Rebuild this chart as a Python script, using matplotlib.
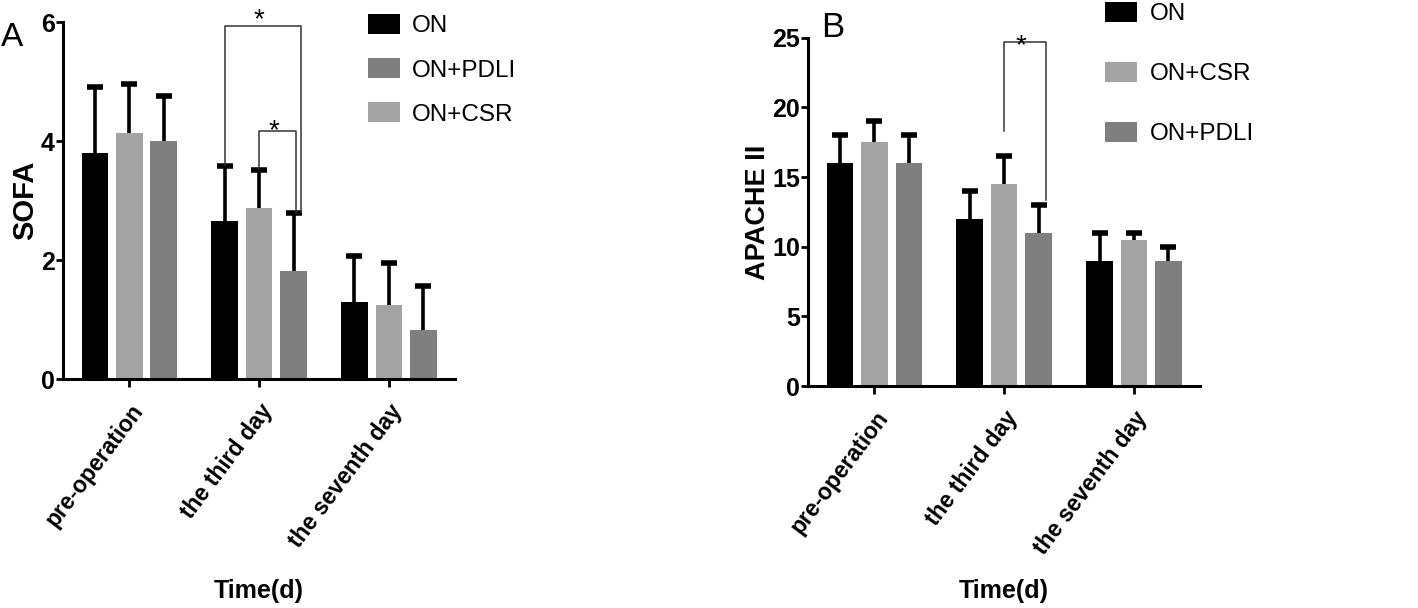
import matplotlib
matplotlib.use("Agg")
import matplotlib.pyplot as plt
import numpy as np

plt.rcParams['font.family'] = ['Liberation Sans', 'DejaVu Sans']

# ---------------- data ----------------
groups = ["pre-operation", "the third day", "the seventh day"]

sofa_on = [3.80, 2.65, 1.30]
sofa_on_sd = [1.10, 0.93, 0.77]
sofa_csr = [4.13, 2.88, 1.25]
sofa_csr_sd = [0.83, 0.63, 0.70]
sofa_pdli = [4.00, 1.82, 0.82]
sofa_pdli_sd = [0.76, 0.97, 0.74]

apache_on = [16.0, 12.0, 9.0]
apache_on_sd = [2.0, 2.0, 2.0]
apache_csr = [17.5, 14.5, 10.5]
apache_csr_sd = [1.5, 2.0, 0.5]
apache_pdli = [16.0, 11.0, 9.0]
apache_pdli_sd = [2.0, 2.0, 1.0]

# significance brackets: (group, bar_i, bar_j, top level, left leg end, right leg end)
sofa_sig = [(1, 0, 2, 5.93, 3.59, 2.81),
            (1, 1, 2, 4.16, 3.55, 2.79)]
apache_sig = [(1, 1, 2, 24.7, 18.3, 13.35)]

C_ON = "#000000"
C_CSR = "#a3a3a3"
C_PDLI = "#7f7f7f"

fig = plt.figure(figsize=(14.18, 6.08), dpi=100)

bw = 0.205
step = 0.265
x = np.arange(len(groups))
right_offsets = [0.06, 0.02]
star_offsets = [-1.0, -4.5]


def panel(ax, series, ylim, yticks, ylabel, sig, ylabel_size, label_y, soffs):
    bars = {}
    for k, (name, vals, sd, col) in enumerate(series):
        xs = x + (k - 1) * step
        vals = np.asarray(vals)
        sd = np.asarray(sd)
        b = ax.bar(xs, vals, width=bw, color=col, zorder=2, label=name)
        ax.errorbar(xs, vals, yerr=[np.zeros(len(vals)), sd], fmt='none',
                    ecolor='black', elinewidth=2.6, capsize=0, zorder=3)
        ax.plot(xs, vals + sd, linestyle='none', marker='_', markersize=12,
                markeredgewidth=4, color='black', zorder=3)
        bars[name] = b
    ax.set_xlim(-0.51, 2.51)
    ax.set_ylim(*ylim)
    ax.set_yticks(yticks)
    ax.set_yticklabels([str(t) for t in yticks], fontsize=18, fontweight='bold')
    ax.set_xticks(x)
    ax.set_xticklabels(groups, rotation=53, ha='right', va='top',
                       rotation_mode='anchor', fontsize=16.5, fontweight='bold')
    for s in ['top', 'right']:
        ax.spines[s].set_visible(False)
    for s in ['left', 'bottom']:
        ax.spines[s].set_linewidth(2.2)
    ax.tick_params(axis='both', width=2, length=5, pad=1)
    ax.tick_params(axis='x', length=6, pad=9)
    ax.set_ylabel(ylabel, fontsize=ylabel_size, fontweight='bold', labelpad=1)
    ax.set_xlabel("Time(d)", fontsize=18, fontweight='bold')
    ax.xaxis.set_label_coords(0.5, label_y)
    for n, (g, i, j, top, lend, rend) in enumerate(sig):
        xl = x[g] + (i - 1) * step
        xr = x[g] + (j - 1) * step + right_offsets[n]
        ax.plot([xl, xl, xr, xr], [lend, top, top, rend], color='#333333', lw=1.1, zorder=4)
        ax.annotate("*", xy=((xl + xr) / 2 - 0.03, top), xytext=(0, soffs[n]),
                    textcoords='offset points', ha='center', va='baseline',
                    fontsize=20, zorder=5)
    return bars


axA = fig.add_axes([0.0446, 0.3766, 0.2763, 0.5872])
bA = panel(axA, [("ON", sofa_on, sofa_on_sd, C_ON),
                 ("ON+CSR", sofa_csr, sofa_csr_sd, C_CSR),
                 ("ON+PDLI", sofa_pdli, sofa_pdli_sd, C_PDLI)],
           (0, 6), [0, 2, 4, 6], "SOFA", sofa_sig, 21, -0.56, star_offsets)
axA.legend([bA["ON"], bA["ON+PDLI"], bA["ON+CSR"]], ["ON", "ON+PDLI", "ON+CSR"],
           loc='upper left', bbox_to_anchor=(0.2595, 0.977), bbox_transform=fig.transFigure,
           frameon=False, fontsize=17.5, handlelength=1.3, handleheight=0.9,
           handletextpad=0.5, labelspacing=0.85, borderpad=0, borderaxespad=0)

axB = fig.add_axes([0.570, 0.3651, 0.2763, 0.5729])
bB = panel(axB, [("ON", apache_on, apache_on_sd, C_ON),
                 ("ON+CSR", apache_csr, apache_csr_sd, C_CSR),
                 ("ON+PDLI", apache_pdli, apache_pdli_sd, C_PDLI)],
           (0, 25), [0, 5, 10, 15, 20, 25], "APACHE II", apache_sig, 19.5, -0.555, [-8.0])
axB.legend([bB["ON"], bB["ON+CSR"], bB["ON+PDLI"]], ["ON", "ON+CSR", "ON+PDLI"],
           loc='upper left', bbox_to_anchor=(0.7793, 0.997), bbox_transform=fig.transFigure,
           frameon=False, fontsize=17.5, handlelength=1.3, handleheight=0.9,
           handletextpad=0.55, labelspacing=1.5, borderpad=0, borderaxespad=0)

fig.text(0.001, 1 - 22 / 608, "A", fontsize=24, ha='left', va='top')
fig.text(0.579, 1 - 11 / 608, "B", fontsize=25, ha='left', va='top')

fig.savefig("out.png", dpi=100)
